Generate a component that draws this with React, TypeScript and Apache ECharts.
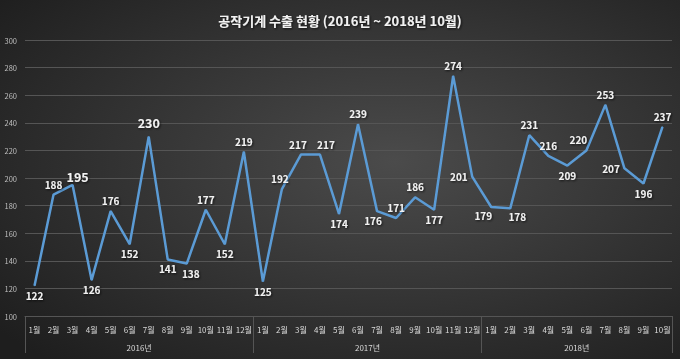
import React, { useEffect, useRef } from "react";
import * as echarts from "echarts";

const title = "공작기계 수출 현황 (2016년 ~ 2018년 10월)";
const years = ["2016년", "2017년", "2018년"];
const monthsPerYear = [12, 12, 10];
const values2016 = [122, 188, 195, 126, 176, 152, 230, 141, 138, 177, 152, 219];
const values2017 = [125, 192, 217, 217, 174, 239, 176, 171, 186, 177, 274, 201];
const values2018 = [179, 178, 231, 216, 209, 220, 253, 207, 196, 237];
// label placement per point (t = top, b = bottom, l = left)
const labelPlace = [
  "b", "t", "t", "b", "t", "b", "t", "b", "b", "t", "b", "t",
  "b", "t", "t", "t", "b", "t", "b", "t", "t", "b", "t", "l",
  "b", "b", "t", "t", "b", "t", "t", "l", "b", "t",
];
// small horizontal nudges of some labels (index -> dx)
const labelNudge: Record<number, number> = {
  2: 5, 8: 4, 13: -2, 14: -3, 15: 6, 18: -4, 24: -8, 25: 7, 29: -8,
};
const bigLabels = [2, 6];

const FONT = "'Noto Sans CJK KR', 'Noto Sans', sans-serif";

export default function App() {
  const ref = useRef<HTMLDivElement>(null);
  useEffect(() => {
    if (!ref.current) return;
    const chart = echarts.init(ref.current, null, { renderer: "svg" });
    const allValues = [...values2016, ...values2017, ...values2018];
    const months: string[] = [];
    monthsPerYear.forEach((n) => {
      for (let i = 1; i <= n; i++) months.push(i + "월");
    });
    const total = months.length;
    const boundaryCats: string[] = [];
    const tickIdx = new Set<number>();
    const yearLabelAt: Record<number, string> = {};
    let acc = 0;
    tickIdx.add(0);
    monthsPerYear.forEach((n, i) => {
      yearLabelAt[acc + n / 2] = years[i];
      acc += n;
      tickIdx.add(acc);
    });
    for (let i = 0; i <= total; i++) boundaryCats.push(yearLabelAt[i] || "");

    const data = allValues.map((v, i) => {
      const p = labelPlace[i];
      const big = bigLabels.includes(i);
      let position: any = "top";
      if (p === "b") position = "bottom";
      if (p === "l") position = "left";
      const dx = labelNudge[i] || 0;
      let distance = p === "b" ? 4 : p === "l" ? 4 : 5;
      if (i === 6) distance = 7;
      if (i === 2) distance = 2;
      if (i === 24 || i === 25) distance = 3;
      return {
        value: v,
        label: {
          position,
          offset: [dx, 0],
          fontSize: big ? 12.5 : 10,
          distance,
        },
      };
    });

    chart.setOption({
      animation: false,
      backgroundColor: {
        type: "radial",
        x: 0.58,
        y: 0.45,
        r: 0.75,
        colorStops: [
          { offset: 0, color: "#4b4b4b" },
          { offset: 1, color: "#1e1e1e" },
        ],
      },
      title: {
        text: title,
        left: "center",
        top: 9,
        textStyle: {
          color: "#f2f2f2",
          fontSize: 13,
          fontWeight: "bold",
          fontFamily: FONT,
          textShadowColor: "rgba(0,0,0,0.7)",
          textShadowBlur: 2,
          textShadowOffsetX: 1,
          textShadowOffsetY: 1,
        },
      },
      grid: { left: 25, right: 8, top: 40, bottom: 43 },
      xAxis: [
        {
          type: "category",
          data: months,
          boundaryGap: true,
          axisLine: { show: true, lineStyle: { color: "#555555", width: 1 } },
          axisTick: { show: false },
          axisLabel: {
            color: "#d9d9d9",
            fontSize: 8,
            fontFamily: FONT,
            margin: 9,
            interval: 0,
          },
        },
        {
          type: "category",
          data: boundaryCats,
          boundaryGap: false,
          position: "bottom",
          axisLine: { show: false },
          axisTick: {
            show: true,
            length: 37,
            interval: (idx: number) => tickIdx.has(idx),
            lineStyle: { color: "#555555", width: 1 },
          },
          axisLabel: {
            color: "#d9d9d9",
            fontSize: 8,
            fontFamily: FONT,
            margin: 27,
            interval: (idx: number, val: string) => val !== "",
          },
        },
      ],
      yAxis: {
        type: "value",
        min: 100,
        max: 300,
        interval: 20,
        axisLine: { show: false },
        axisTick: { show: false },
        splitLine: { lineStyle: { color: "#555555", width: 1 } },
        axisLabel: {
          color: "#bfbfbf",
          fontSize: 7.5,
          fontFamily: FONT,
          margin: 8,
        },
      },
      series: [
        {
          type: "line",
          data,
          xAxisIndex: 0,
          showSymbol: true,
          symbol: "circle",
          symbolSize: 1,
          itemStyle: { color: "#5b9bd5" },
          lineStyle: { color: "#5b9bd5", width: 2.5 },
          label: {
            show: true,
            color: "#f2f2f2",
            fontWeight: "bold",
            fontFamily: FONT,
            textShadowColor: "rgba(0,0,0,0.7)",
            textShadowBlur: 2,
            textShadowOffsetX: 1,
            textShadowOffsetY: 1,
          },
        },
      ],
    });
    return () => chart.dispose();
  }, []);
  return (
    <div
      ref={ref}
      style={{ position: "fixed", left: 0, top: 0, width: 680, height: 359 }}
    />
  );
}
